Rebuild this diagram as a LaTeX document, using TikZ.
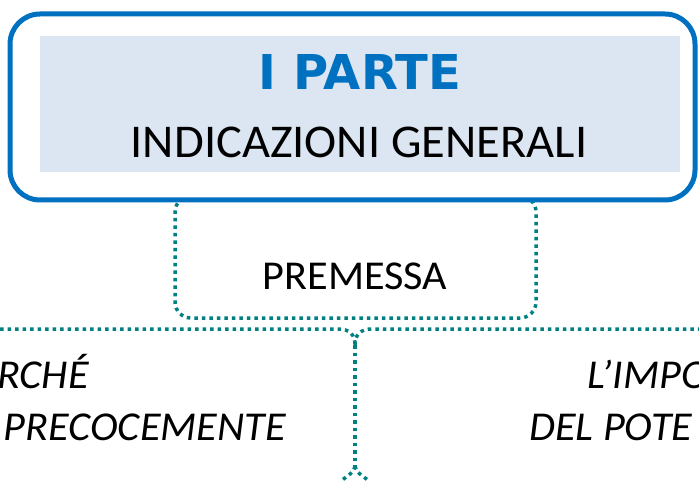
\documentclass[tikz,border=0pt]{standalone}
\usepackage{fontspec}
\setmainfont{Carlito}[FakeStretch=1.03]
\newfontfamily\partfont{DejaVu Sans}
\usetikzlibrary{positioning}
\definecolor{partblue}{RGB}{0,112,192}
\definecolor{headfill}{RGB}{220,230,242}
\definecolor{linkteal}{RGB}{0,128,128}
\tikzset{
  dotline/.style={draw=linkteal, line width=3.5pt, dash pattern=on 3.5pt off 4pt},
  sidetext/.style={font=\fontsize{41}{48}\selectfont\itshape, inner sep=0pt}
}
\begin{document}
\begin{tikzpicture}[x=1pt,y=-1pt]
        \clip (0,0) rectangle (699,481);
        % premessa box, partly under the big box
        \node[dotline, rounded corners=16pt, minimum width=361pt, minimum height=122pt] (premessa) at (355.5,257) {};
        \node[font=\fontsize{41}{48}\selectfont, inner sep=0pt, anchor=base] (premtext) at (355,289) {PREMESSA};
        % big box
        \node[draw=partblue, line width=5pt, fill=white, rounded corners=30pt, minimum width=685pt, minimum height=186pt] (parte) at (352.5,107) {};
        \node[fill=headfill, minimum width=640pt, minimum height=136pt, inner sep=0pt] (head) at (360,104) {};
        \node[font=\partfont\bfseries\fontsize{48}{52}\selectfont, text=partblue, inner sep=0pt, anchor=base] (title) at (360,90) {I PARTE};
        \node[font=\fontsize{47}{54}\selectfont, inner sep=0pt, anchor=base] (subtitle) at (359,158) {INDICAZIONI GENERALI};
        % brace
        \coordinate (leftend) at (0,329);
        \coordinate (rightend) at (699,329);
        \coordinate (split) at (355,345);
        \coordinate (fork) at (355,466);
        \coordinate (forkl) at (341,481);
        \coordinate (forkr) at (369,481);
        \draw[dotline] (leftend) -- (338,329) .. controls (350,329) and (355,335) .. (split);
        \draw[dotline] (split) .. controls (355,335) and (360,329) .. (372,329) -- (rightend);
        \draw[dotline] (split) -- (fork);
        \draw[dotline] (fork) .. controls (355,472) and (347,476) .. (forkl);
        \draw[dotline] (fork) .. controls (355,472) and (363,476) .. (forkr);
        % side texts
        \node[sidetext, anchor=base east] (perche) at (89,388) {RCHÉ};
        \node[sidetext, anchor=base east] (preco) at (286,440) {PRECOCEMENTE};
        \node[sidetext, anchor=base west] (impo) at (587,388) {L’IMPO};
        \node[sidetext, anchor=base west] (pote) at (529,440) {DEL POTE};
    \end{tikzpicture}
\end{document}
